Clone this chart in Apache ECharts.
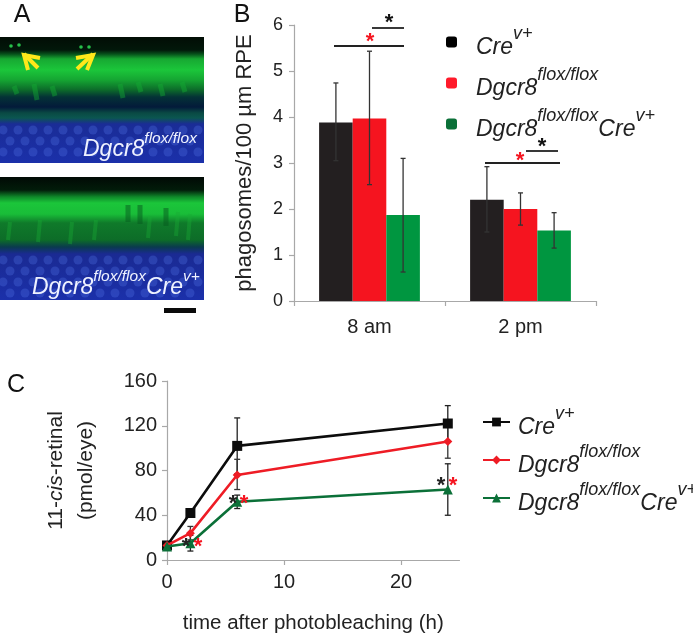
<!DOCTYPE html>
<html><head><meta charset="utf-8">
<style>html,body{margin:0;padding:0;background:#fff}#c{width:693px;height:635px}</style>
<script src="https://cdn.jsdelivr.net/npm/echarts@6/dist/echarts.min.js"></script>
</head><body><div id="c"></div>
<script>
// Panel B data
const timesB = ['8 am', '2 pm'];
const creB = [3.88, 2.2];
const floxB = [3.97, 2.0];
const koB = [1.87, 1.53];
const creBLow = [3.05, 1.5], creBHigh = [4.74, 2.92];
const floxBLow = [2.53, 1.65], floxBHigh = [5.43, 2.35];
const koBLow = [0.63, 1.15], koBHigh = [3.1, 1.92];
// Panel C data
const hours = [0, 2, 6, 24];
const creC = [13, 42, 102, 122];
const floxC = [13, 24, 76, 106];
const koC = [12, 15, 52, 63];
const creCLow = [13, 39, 77, 106], creCHigh = [13, 45, 127, 138];
const floxCLow = [13, 18, 63, 91], floxCHigh = [13, 30, 90, 121];
const koCLow = [12, 8, 46, 40], koCHigh = [12, 22, 58, 86];

const FONT = '"Liberation Sans", Arial, sans-serif';
const BLACK = '#231f20', RED = '#f5141f', GREEN = '#009640', DGREEN = '#0b7038';
const AXIS = '#a8a8a8', TXT = '#222';

const rich = {
  p: {width: 14, fontSize: 10},
  m: {fontFamily: FONT, fontStyle: 'italic', fontSize: 23, color: TXT, lineHeight: 34, verticalAlign: 'bottom'},
  s: {fontFamily: FONT, fontStyle: 'italic', fontSize: 18, color: TXT, lineHeight: 24, verticalAlign: 'top'}
};
const labelRich = {
  Cre: '{m|Cre}{s|v+}',
  Flox: '{m|Dgcr8}{s|flox/flox}',
  KO: '{m|Dgcr8}{s|flox/flox}{m|Cre}{s|v+}'
};
const namesB = ['Cre', 'Flox', 'KO'];
const namesC = ['Cre ', 'Flox ', 'KO '];

// --- micrograph decoration (panel A) ---
const g = [];
function rectGrad(y0, y1, stops) {
  g.push({type: 'rect', shape: {x: 0, y: y0, width: 204, height: y1 - y0}, silent: true,
    style: {fill: {type: 'linear', x: 0, y: 0, x2: 0, y2: 1, colorStops: stops.map(s => ({offset: (s[0] - y0) / (y1 - y0), color: s[1]}))}}});
}
rectGrad(37, 163, [[37,'#020d05'],[50,'#02180a'],[54,'#06501a'],[59,'#17a832'],[70,'#1bc63a'],[80,'#15a532'],[90,'#0c6a2a'],[97,'#043236'],[107,'#031a3a'],[113,'#0a4a44'],[118,'#0b5650'],[124,'#1a2c96'],[163,'#1b30aa']]);
rectGrad(177, 300, [[177,'#010a05'],[190,'#021c0a'],[197,'#0f8a2a'],[203,'#1bc63a'],[214,'#19bd38'],[223,'#0f7a2a'],[240,'#0d6c28'],[247,'#0a3a4e'],[254,'#1a2a92'],[300,'#1b30aa']]);
// nuclei
[[124, 163], [254, 300]].forEach(([y0, y1]) => {
  for (let y = y0 + 6, r = 0; y < y1; y += 11, r++) {
    for (let x = (r % 2 ? 10 : 3); x < 204; x += 15) {
      g.push({type: 'circle', silent: true, shape: {cx: x, cy: y, r: 4.5}, style: {fill: 'rgba(90,125,240,0.28)'}});
    }
  }
});
// streaks of green
[[14,86,94],[34,84,100],[52,86,96],[120,84,98],[138,82,92],[160,84,96],[182,82,92]].forEach(s => {
  g.push({type: 'line', silent: true, shape: {x1: s[0], y1: s[1], x2: s[0] + 3, y2: s[2]}, style: {stroke: 'rgba(20,170,50,0.45)', lineWidth: 5}});
});
[[10,222,240],[40,220,242],[72,222,244],[96,220,240],[150,216,238],[178,212,236],[190,214,240]].forEach(s => {
  g.push({type: 'line', silent: true, shape: {x1: s[0], y1: s[1], x2: s[0] - 2, y2: s[2]}, style: {stroke: 'rgba(24,170,52,0.4)', lineWidth: 4}});
});
[[128,205,222],[140,205,224],[166,208,226]].forEach(s => {
  g.push({type: 'line', silent: true, shape: {x1: s[0], y1: s[1], x2: s[0], y2: s[2]}, style: {stroke: 'rgba(6,90,30,0.5)', lineWidth: 5}});
});
[[11,46],[19,45],[81,47],[89,47]].forEach(p => {
  g.push({type: 'circle', silent: true, shape: {cx: p[0], cy: p[1], r: 1.8}, style: {fill: '#27c04a'}});
});
function arrow(pts) {
  pts.forEach(seg => g.push({type: 'polyline', silent: true, shape: {points: seg}, style: {stroke: '#ffe81a', fill: null, lineWidth: 4}}));
}
arrow([[[38,68],[24,54]], [[40,58],[24,55],[28,70]]]);
arrow([[[77,69],[93,54]], [[76,58],[93,55],[87,70]]]);
g.push({type: 'rect', silent: true, shape: {x: 164, y: 308, width: 32, height: 5}, style: {fill: '#0a0a0a'}});

function txt(x, y, text, size, color, extra) {
  g.push({type: 'text', silent: true, z: 50, x, y, style: Object.assign({text, fontFamily: FONT, fontSize: size, fill: color, align: 'center', verticalAlign: 'middle'}, extra || {})});
}
const whiteRich = {
  m: {fontFamily: FONT, fontStyle: 'italic', fontSize: 23, fill: '#eef2ff', color: '#eef2ff', lineHeight: 30, verticalAlign: 'bottom'},
  s: {fontFamily: FONT, fontStyle: 'italic', fontSize: 15.5, fill: '#eef2ff', color: '#eef2ff', lineHeight: 20, verticalAlign: 'top'}
};
txt(83, 146, labelRich.Flox, 23, '#eef2ff', {align: 'left', rich: whiteRich});
txt(32, 284, labelRich.KO, 23, '#eef2ff', {align: 'left', rich: whiteRich});
txt(22, 15, 'A', 25, '#111');
txt(242, 15, 'B', 25, '#111');
txt(16, 385, 'C', 25, '#111');

// significance marks panel B
function seg(x1, x2, y) {
  g.push({type: 'line', silent: true, z: 40, shape: {x1, y1: y, x2, y2: y}, style: {stroke: '#222', lineWidth: 1.8}});
}
seg(372, 404, 28); seg(334, 404, 46); seg(526, 558, 151); seg(485, 560, 163);
const STAR_OFF = 4;
[[389,19,'#111'],[370,38,RED],[542,143,'#111'],[520,157,RED],
 [186,543,'#222'],[198,543,RED],[233,500,'#222'],[244,500,RED],[441,482,'#222'],[453,482,RED]].forEach(s => {
  txt(s[0], s[1] + STAR_OFF, '*', 22, s[2], {fontWeight: 'bold'});
});

// --- series ---
function errB(arrLow, arrHigh, idx, color) {
  return {type: 'custom', xAxisIndex: 0, yAxisIndex: 0, z: 10, silent: true,
    data: timesB.map((t, i) => [i, arrLow[i], arrHigh[i]]),
    encode: {x: 0, y: [1, 2]},
    renderItem(p, api) {
      const band = api.size([1, 0])[0];
      const off = (idx - 1) * band * 0.2225;
      const a = api.coord([api.value(0), api.value(1)]);
      const b = api.coord([api.value(0), api.value(2)]);
      const x = a[0] + off;
      const st = {stroke: color, lineWidth: 1.3, fill: null};
      return {type: 'group', children: [
        {type: 'line', shape: {x1: x, y1: a[1], x2: x, y2: b[1]}, style: st},
        {type: 'line', shape: {x1: x - 2.5, y1: a[1], x2: x + 2.5, y2: a[1]}, style: st},
        {type: 'line', shape: {x1: x - 2.5, y1: b[1], x2: x + 2.5, y2: b[1]}, style: st}
      ]};
    }};
}
function errC(arrLow, arrHigh, color) {
  return {type: 'custom', xAxisIndex: 1, yAxisIndex: 1, z: 3, silent: true,
    data: hours.map((h, i) => [h, arrLow[i], arrHigh[i]]),
    encode: {x: 0, y: [1, 2]},
    renderItem(p, api) {
      const a = api.coord([api.value(0), api.value(1)]);
      const b = api.coord([api.value(0), api.value(2)]);
      const st = {stroke: color, lineWidth: 1.3, fill: null};
      return {type: 'group', children: [
        {type: 'line', shape: {x1: a[0], y1: a[1], x2: a[0], y2: b[1]}, style: st},
        {type: 'line', shape: {x1: a[0] - 3, y1: a[1], x2: a[0] + 3, y2: a[1]}, style: st},
        {type: 'line', shape: {x1: a[0] - 3, y1: b[1], x2: a[0] + 3, y2: b[1]}, style: st}
      ]};
    }};
}
function bar(name, data, color) {
  return {name, type: 'bar', xAxisIndex: 0, yAxisIndex: 0, data, barWidth: '22.25%', barGap: '0%', itemStyle: {color}};
}
function line(name, data, color, symbol, size, z) {
  return {name, type: 'line', xAxisIndex: 1, yAxisIndex: 1, z, clip: false, data: hours.map((h, i) => [h, data[i]]),
    symbol, symbolSize: size, showSymbol: true, lineStyle: {color, width: 2.6}, itemStyle: {color}};
}
const axisBase = {
  axisLine: {show: true, onZero: false, lineStyle: {color: AXIS, width: 1.2}},
  axisTick: {show: true, length: 5, lineStyle: {color: AXIS, width: 1.2}},
  splitLine: {show: false}
};
const legendText = (s) => ({fontFamily: FONT, rich});

const option = {
  animation: false,
  backgroundColor: '#fff',
  textStyle: {fontFamily: FONT},
  graphic: g,
  grid: [
    {left: 294, top: 25, width: 302, height: 276},
    {left: 167, top: 381, width: 292.5, height: 188}
  ],
  xAxis: [
    Object.assign({}, axisBase, {gridIndex: 0, type: 'category', data: timesB,
      axisTick: {show: true, alignWithLabel: false, length: 5, lineStyle: {color: AXIS, width: 1.2}},
      axisLabel: {fontFamily: FONT, fontSize: 20, color: TXT, margin: 16}}),
    Object.assign({}, axisBase, {gridIndex: 1, type: 'value', min: 0, max: 25, interval: 5,
      axisTick: {show: true, length: 5, customValues: [0, 10, 20], lineStyle: {color: AXIS, width: 1.2}},
      axisLabel: {fontFamily: FONT, fontSize: 20, color: TXT, margin: 12, customValues: [0, 10, 20]},
      name: 'time after photobleaching (h)', nameLocation: 'middle', nameGap: 53,
      nameTextStyle: {fontFamily: FONT, fontSize: 20.5, color: TXT},
      nameTextStyleX: null})
  ],
  yAxis: [
    Object.assign({}, axisBase, {gridIndex: 0, type: 'value', min: 0, max: 6, interval: 1,
      axisLabel: {fontFamily: FONT, fontSize: 18, color: TXT, margin: 11},
      name: 'phagosomes/100 µm RPE', nameLocation: 'middle', nameGap: 38, nameRotate: 90,
      nameTextStyle: {fontFamily: FONT, fontSize: 22, color: TXT}}),
    Object.assign({}, axisBase, {gridIndex: 1, type: 'value', min: 0, max: 160, interval: 40,
      axisLabel: {fontFamily: FONT, fontSize: 20, color: TXT, margin: 10},
      name: '{a|11-}{i|cis}{a|-retinal}\n{a|(pmol/eye)}', nameLocation: 'middle', nameGap: 66, nameRotate: 90,
      nameTextStyle: {fontFamily: FONT, fontSize: 21, color: TXT, rich: {
        a: {fontFamily: FONT, fontSize: 21, color: TXT, lineHeight: 30},
        i: {fontFamily: FONT, fontSize: 21, color: TXT, lineHeight: 30, fontStyle: 'italic'}}}})
  ],
  legend: [
    {left: 441, top: 20, orient: 'vertical', itemGap: 7, itemWidth: 11, itemHeight: 11, selectedMode: false,
      data: [{name: 'Cre', itemStyle: {color: '#000'}}, {name: 'Flox', itemStyle: {color: '#ff1a2a'}}, {name: 'KO', itemStyle: {color: DGREEN}}],
      formatter: n => '{p|}' + labelRich[n], textStyle: {rich}},
    {left: 477, top: 400, orient: 'vertical', itemGap: 4, itemWidth: 27, itemHeight: 11, selectedMode: false,
      data: namesC,
      formatter: n => '{p2|}' + labelRich[n.trim()], textStyle: {rich: Object.assign({p2: {width: 3, fontSize: 10}}, rich)}}
  ],
  series: [
    bar('Cre', creB, BLACK), bar('Flox', floxB, RED), bar('KO', koB, GREEN),
    errB(creBLow, creBHigh, 0, '#333'), errB(floxBLow, floxBHigh, 1, '#333'), errB(koBLow, koBHigh, 2, '#333'),
    errC(creCLow, creCHigh, '#222'), errC(floxCLow, floxCHigh, '#333'), errC(koCLow, koCHigh, '#222'),
    line('Cre ', creC, '#0c0c0c', 'rect', 10, 4),
    line('Flox ', floxC, '#ee1c25', 'diamond', 9, 5),
    line('KO ', koC, DGREEN, 'triangle', 10, 6)
  ]
};
const chart = echarts.init(document.getElementById('c'), null, {renderer: 'canvas'});
chart.setOption(option);
</script></body></html>
